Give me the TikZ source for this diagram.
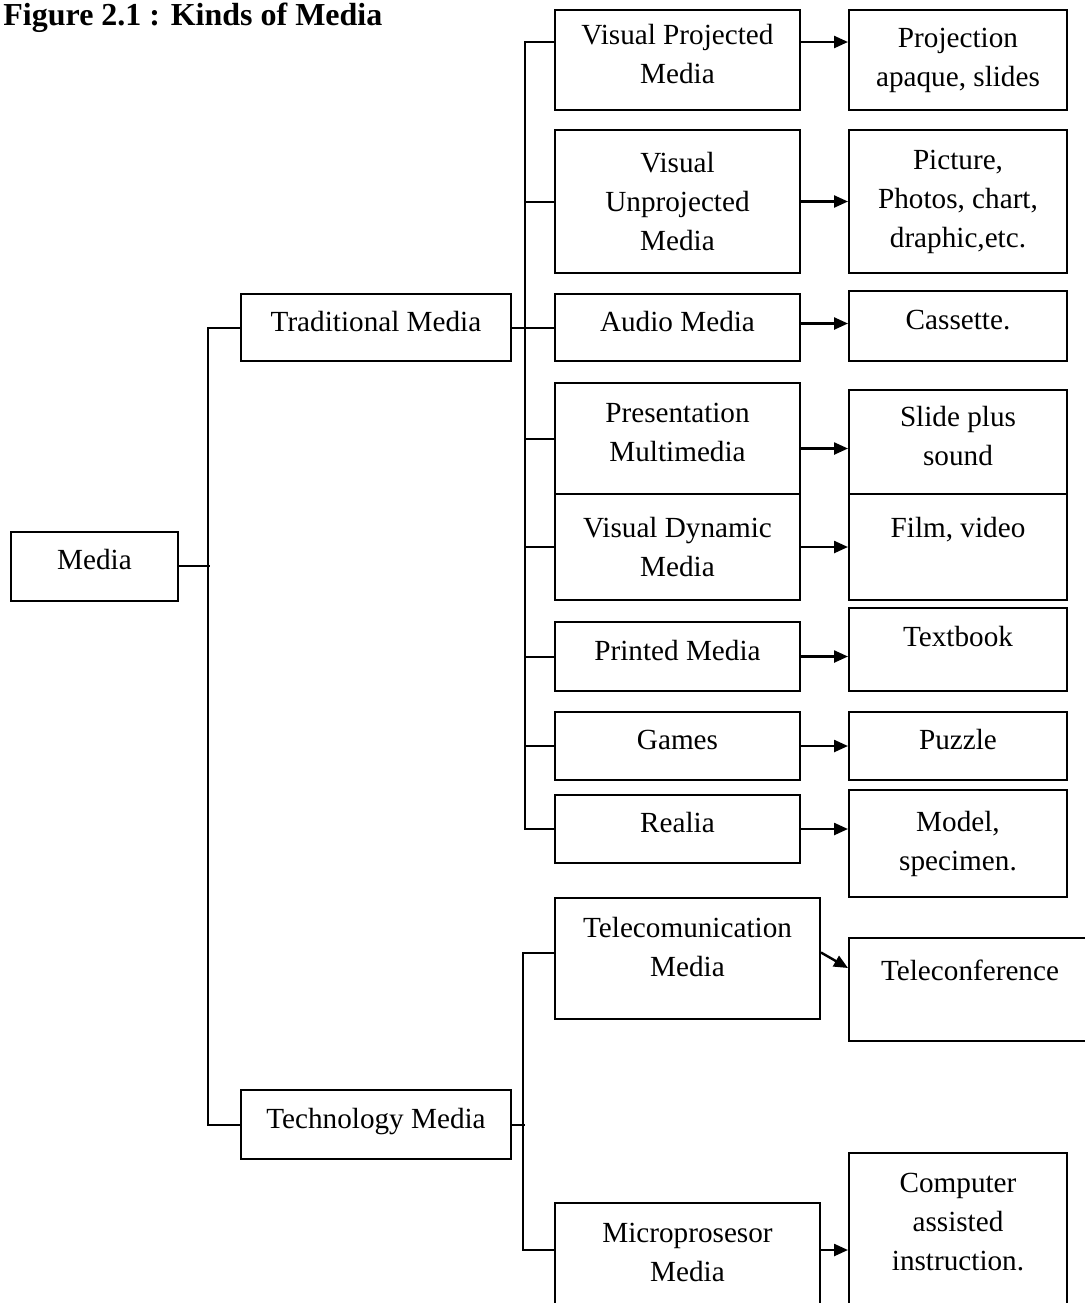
\documentclass[tikz,border=0pt]{standalone}
\usepackage{fontspec}
\setmainfont{Liberation Serif}
\usepackage{tikz}
\usetikzlibrary{arrows.meta,positioning}
\newcommand{\lift}{\\[-13pt]\mbox{}}

\begin{document}
\begin{tikzpicture}[
    x=0.5pt,y=-0.5pt,
    p/.style={draw, line width=1pt, align=center, inner sep=0pt,
              font=\fontsize{14.6}{19.5}\selectfont},
    a/.style={-{Triangle[length=7pt,width=6pt]}, line width=1.2pt},
    l/.style={line width=1pt}
]
\useasboundingbox (0,0) rectangle (1084,1303);
\node[anchor=base west, inner sep=0pt, font=\fontsize{16}{19}\selectfont\bfseries] (title) at (3,25) {Figure 2.1 : Kinds of Media};

% Left part: root and the two groups
\node[p, minimum width=83.5pt, minimum height=34.5pt] (media) at (94.5,566) {Media\lift};
\node[p, minimum width=135pt, minimum height=33.5pt] (trad) at (376,327.5) {Traditional Media\lift};
\node[p, minimum width=135pt, minimum height=34.5pt] (tech) at (376,1124.5) {Technology Media\lift};

% Middle column: kinds of media
\node[p, minimum width=122.5pt, minimum height=50pt] (vpm) at (677.5,60) {Visual Projected\\Media\lift};
\node[p, minimum width=122.5pt, minimum height=71.5pt] (vup) at (677.5,201.5) {Visual\\Unprojected\\Media};
\node[p, minimum width=122.5pt, minimum height=33.5pt] (aud) at (677.5,327.5) {Audio Media\lift};
\node[p, minimum width=122.5pt, minimum height=55.5pt] (pres) at (677.5,438.5) {Presentation\\Multimedia\lift};
\node[p, minimum width=122.5pt, minimum height=53pt] (vdyn) at (677.5,547) {Visual Dynamic\\Media};
\node[p, minimum width=122.5pt, minimum height=34.5pt] (prnt) at (677.5,656.5) {Printed Media\lift};
\node[p, minimum width=122.5pt, minimum height=34pt] (game) at (677.5,746) {Games\lift};
\node[p, minimum width=122.5pt, minimum height=34pt] (real) at (677.5,829) {Realia\lift};
\node[p, minimum width=132.5pt, minimum height=60.5pt] (tele) at (687.5,958.5) {Telecomunication\\Media\\[-7.5pt]\mbox{}};
\node[p, minimum width=132.5pt, minimum height=56pt] (micro) at (687.5,1259) {Microprosesor\\Media\lift};

% Right column: examples
\node[p, minimum width=109pt, minimum height=50pt] (proj) at (958,60) {Projection\\apaque, slides};
\node[p, minimum width=109pt, minimum height=71.5pt] (pict) at (958,201.5) {Picture,\\Photos, chart,\\draphic,etc.};
\node[p, minimum width=109pt, minimum height=35pt] (cass) at (958,326) {Cassette.\lift};
\node[p, minimum width=109pt, minimum height=52pt] (slide) at (958,442) {Slide plus\\sound\lift};
\node[p, minimum width=109pt, minimum height=53pt] (film) at (958,547) {Film, video\\\mbox{}};
\node[p, minimum width=109pt, minimum height=41.5pt] (text) at (958,649.5) {Textbook\\[-6.5pt]\mbox{}};
\node[p, minimum width=109pt, minimum height=34pt] (puz) at (958,746) {Puzzle\lift};
\node[p, minimum width=109pt, minimum height=53.5pt] (model) at (958,843.5) {Model,\\specimen.};
\node[p, minimum width=121pt, minimum height=51.5pt] (telc) at (970,989.5) {Teleconference\\\mbox{}};
\node[p, minimum width=109pt, minimum height=81pt] (cai) at (958,1234) {Computer\\assisted\\instruction.\\[-7pt]\mbox{}};

% Tree lines
\draw[l] (media.east) -- ++(31,0);
\draw[l] (trad.west) -- ++(-32,0) |- (tech.west);
\draw[l] (trad.east) -- (aud.west);
\draw[l] ([yshift=9pt]vpm.west) -- ++(-29,0) |- (real.west);
\foreach \n in {vup,pres,vdyn,prnt,game}
  \draw[l] (\n.west) -- ++(-29,0);
\draw[l] (tech.east) -- ++(13,0);
\draw[l] ([yshift=3pt]tele.west) -- ++(-31,0) |- ([yshift=4.5pt]micro.west);

% Arrows to the examples
\draw[a] ([yshift=9pt]vpm.east) -- ([yshift=9pt]proj.west);
\draw[a] (vup.east) -- (pict.west);
\draw[a] ([yshift=2pt]aud.east) -- ([yshift=2pt]aud.east -| cass.west);
\draw[a] ([yshift=-5pt]pres.east) -- ([yshift=-5pt]pres.east -| slide.west);
\draw[a] (vdyn.east) -- (film.west);
\draw[a] (prnt.east) -- (prnt.east -| text.west);
\draw[a] (game.east) -- (puz.west);
\draw[a] (real.east) -- (real.east -| model.west);
\draw[a] ([yshift=3pt]tele.east) -- ([yshift=10.75pt]telc.west);
\draw[a] ([yshift=4.5pt]micro.east) -- ([yshift=4.5pt]micro.east -| cai.west);
\end{tikzpicture}
\end{document}
